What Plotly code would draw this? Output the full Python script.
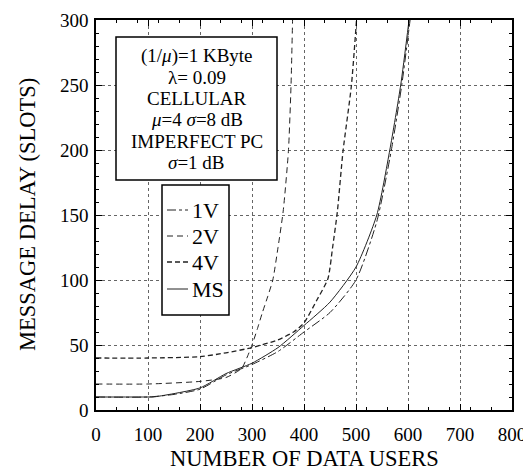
import plotly.graph_objects as go

# Data
x_1v = [0, 100, 150, 200, 250, 300, 350, 400, 450, 500, 540, 568, 588, 604]
y_1v = [10, 10, 12, 16, 27, 35, 45, 60, 75, 100, 145, 200, 250, 300]

x_2v = [0, 100, 200, 250, 280, 290, 300, 310, 320, 330, 340, 350, 360, 370, 375, 378]
y_2v = [20, 20, 22, 25, 32, 40, 50, 62, 75, 87, 100, 125, 153, 199, 249, 300]

x_4v = [0, 100, 200, 250, 300, 350, 380, 400, 424, 446, 455, 464, 475, 491, 501]
y_4v = [40, 40, 41, 44, 48, 54, 60, 67, 84, 101, 125, 152, 199, 249, 300]

x_ms = [0, 100, 110, 200, 250, 300, 350, 400, 450, 500, 540, 565, 586, 602]
y_ms = [10, 10, 10, 17, 28, 36, 48, 65, 83, 110, 150, 200, 250, 300]

series_names = ["1V", "2V", "4V", "MS"]
series_x = [x_1v, x_2v, x_4v, x_ms]
series_y = [y_1v, y_2v, y_4v, y_ms]
series_dash = ["dashdot", "6px,4px", "5px,3px", "solid"]
series_width = [1.0, 1.0, 1.3, 1.0]

info_lines = ["(1/<i>μ</i>)=1 KByte", "λ= 0.09", "CELLULAR",
              "<i>μ</i>=4 <i>σ</i>=8 dB", "IMPERFECT PC", "<i>σ</i>=1 dB"]

x_title = "NUMBER OF DATA USERS"
y_title = "MESSAGE DELAY (SLOTS)"

FONT = "Liberation Serif"
OFF = 8  # page body margin
W, H = 531 - OFF, 472 - OFF
# plot area in window pixels: x 96..512, y 20..410
L, T = 96 - OFF, 20 - OFF
R, B = W - (512 - OFF), H - (410 - OFF)
PW, PH = W - L - R, H - T - B


def px2paper(px, py):
    # px, py are window pixel coordinates
    return (px - OFF - L) / PW, (H - B - (py - OFF)) / PH


fig = go.Figure()
for name, xs, ys, dash, w in zip(series_names, series_x, series_y, series_dash, series_width):
    fig.add_trace(go.Scatter(x=xs, y=ys, mode="lines", name=name, showlegend=False,
                             line=dict(color="#222", width=w, dash=dash, shape="spline", smoothing=0.6)))

axis_common = dict(showline=True, linecolor="black", linewidth=1.5, mirror="ticks",
                   ticks="inside", ticklen=6, tickcolor="black", automargin=False,
                   showgrid=True, gridcolor="#666", griddash="dot", gridwidth=1,
                   zeroline=False, tickfont=dict(family=FONT, size=19, color="black"))

fig.update_xaxes(range=[0, 800], dtick=100, tick0=0, ticklabelstandoff=6,
                 minor=dict(dtick=40, ticks="inside", ticklen=3, tickcolor="black", showgrid=False),
                 **axis_common)
fig.update_yaxes(range=[0, 300], dtick=50, tick0=0, ticklabelstandoff=2,
                 minor=dict(dtick=10, ticks="inside", ticklen=3, tickcolor="black", showgrid=False),
                 **axis_common)

shapes = []
annotations = []

# axis titles
ax, ay = px2paper(304, 458)
annotations.append(dict(xref="paper", yref="paper", x=ax, y=ay, text=x_title, showarrow=False,
                        xanchor="center", yanchor="middle",
                        font=dict(family=FONT, size=22.5, color="black")))
ax, ay = px2paper(27, 215)
annotations.append(dict(xref="paper", yref="paper", x=ax, y=ay, text=y_title, showarrow=False,
                        textangle=-90, xanchor="center", yanchor="middle",
                        font=dict(family=FONT, size=22.5, color="black")))

# info box
x0, y0 = px2paper(116, 37)
x1, y1 = px2paper(277, 180)
shapes.append(dict(type="rect", xref="paper", yref="paper", x0=x0, y0=y1, x1=x1, y1=y0,
                   line=dict(color="black", width=1.5), fillcolor="white", layer="above"))
for i, line in enumerate(info_lines):
    cx, cy = px2paper(196.5, 56 + i * 21.3)
    annotations.append(dict(xref="paper", yref="paper", x=cx, y=cy, text=line, showarrow=False,
                            xanchor="center", yanchor="middle",
                            font=dict(family=FONT, size=19, color="black")))

# legend box
x0, y0 = px2paper(162, 185)
x1, y1 = px2paper(229, 315)
shapes.append(dict(type="rect", xref="paper", yref="paper", x0=x0, y0=y1, x1=x1, y1=y0,
                   line=dict(color="black", width=1.5), fillcolor="white", layer="above"))
leg_y = [210, 236, 262, 289]
for name, dash, w, py in zip(series_names, series_dash, series_width, leg_y):
    lx0, ly = px2paper(167, py)
    lx1, _ = px2paper(188, py)
    shapes.append(dict(type="line", xref="paper", yref="paper", x0=lx0, y0=ly, x1=lx1, y1=ly,
                       line=dict(color="#222", width=w, dash=dash), layer="above"))
    tx, ty = px2paper(190, py)
    annotations.append(dict(xref="paper", yref="paper", x=tx, y=ty, text=name, showarrow=False,
                            xanchor="left", yanchor="middle",
                            font=dict(family=FONT, size=22, color="black")))

fig.update_layout(
    width=W, height=H,
    margin=dict(l=L, r=R, t=T, b=B, autoexpand=False),
    paper_bgcolor="white", plot_bgcolor="white",
    font=dict(family=FONT, color="black"),
    shapes=shapes, annotations=annotations, showlegend=False,
)

fig.write_html("out.html")
